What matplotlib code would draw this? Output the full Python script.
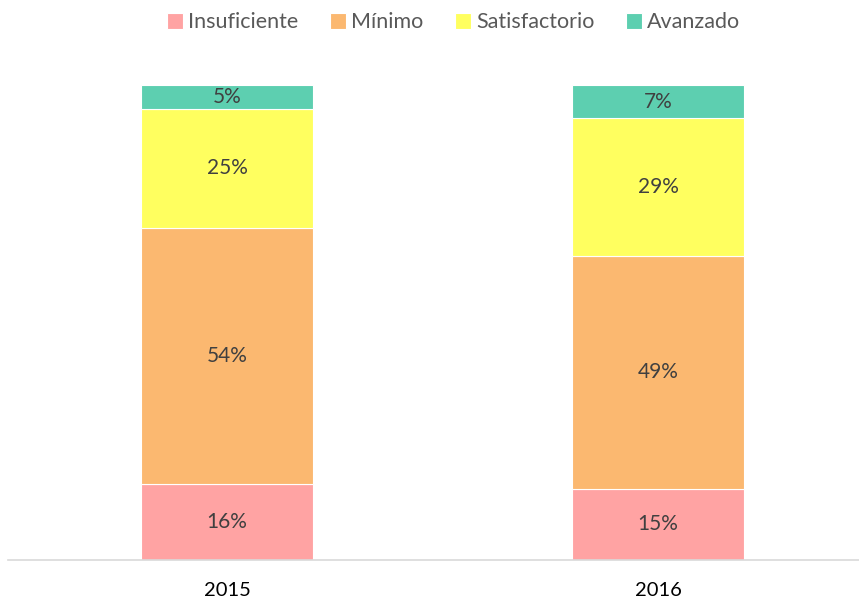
import matplotlib
matplotlib.use('Agg')
import matplotlib.pyplot as plt
import numpy as np

plt.rcParams['font.family'] = ['Lato', 'DejaVu Sans']

years = ['2015', '2016']
levels = ['Insuficiente', 'Mínimo', 'Satisfactorio', 'Avanzado']
insuficiente = [16, 15]
minimo = [54, 49]
satisfactorio = [25, 29]
avanzado = [5, 7]
colors = ['#FFA3A3', '#FBB870', '#FFFF5F', '#5DCFB0']

series = [insuficiente, minimo, satisfactorio, avanzado]

fig = plt.figure(figsize=(8.59, 6.02), dpi=100)
ax = fig.add_axes([8 / 859, 42 / 602, 851 / 859, 475 / 602])

x = np.arange(len(years))
bottom = np.zeros(len(years))
for name, vals, col in zip(levels, series, colors):
    vals = np.array(vals, dtype=float)
    ax.bar(x, vals, width=0.4, bottom=bottom, color=col, label=name,
           edgecolor='white', linewidth=0.8)
    for xi, b, v in zip(x, bottom, vals):
        ax.text(xi, b + v / 2, f'{int(v)}%', ha='center', va='center',
                fontsize=15, color='#404040')
    bottom += vals

ax.set_xlim(-0.508, 1.466)
ax.set_ylim(0, 100)
ax.set_xticks(x)
ax.set_xticklabels(years, fontsize=14.5, color='black')
ax.tick_params(axis='x', length=0, pad=16)
ax.set_yticks([])
for s in ['top', 'left', 'right']:
    ax.spines[s].set_visible(False)
ax.spines['bottom'].set_color('#D9D9D9')
ax.spines['bottom'].set_linewidth(1.2)

fig.legend(loc='upper center', bbox_to_anchor=(0.528, 1.012), ncol=4, frameon=False,
           fontsize=15.5, labelcolor='#595959', handlelength=0.75, handleheight=0.75,
           handletextpad=0.25, columnspacing=1.45)

fig.savefig('out.png', dpi=100)
